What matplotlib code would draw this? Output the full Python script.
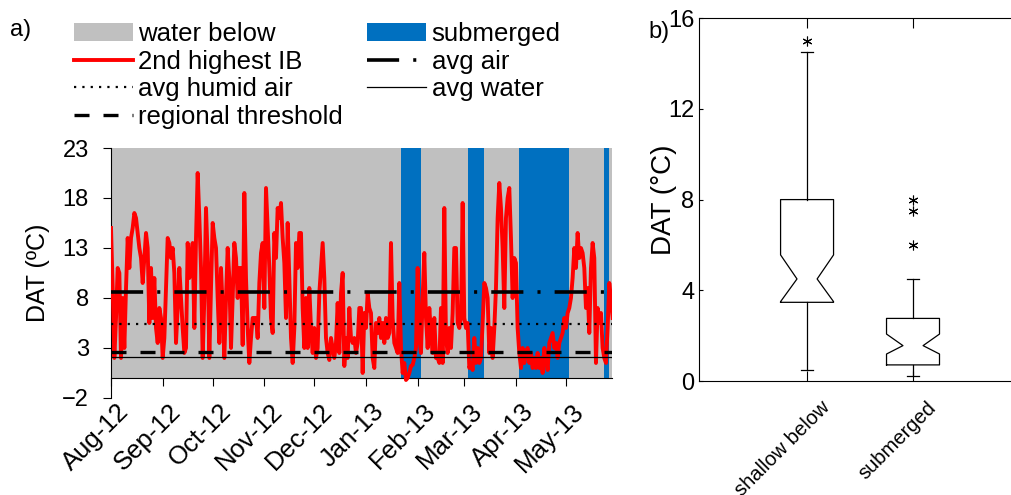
import pandas as pd
import matplotlib
matplotlib.use('Agg')
import matplotlib.pyplot as plt
import matplotlib.dates as mdates
import matplotlib.transforms as mtransforms
from matplotlib.patches import Patch
from matplotlib.lines import Line2D

plt.rcParams['font.family'] = ['Liberation Sans', 'DejaVu Sans']

# daily DAT (°C) of the 2nd highest iButton, starting 1 Aug 2012
start_date = '2012-08-01'
dat_aug_oct = [15, 9, 2, 6, 11, 10.5, 2, 8, 3, 9,
               14, 11, 14, 15, 16.5, 16, 14.5, 13, 12, 9.5,
               12, 14.5, 13, 5.5, 11, 6, 10, 5, 3.5, 7,
               6, 2, 4, 9, 14, 13.5, 12, 13, 10.5, 3.5,
               7, 11, 8, 5, 2.5, 3, 13.5, 10, 12, 13.5,
               5, 14, 20.5, 16, 11, 2, 8, 17, 12, 2,
               9, 15.5, 14, 13, 8, 3.5, 11, 7, 2, 8,
               13, 10, 3, 8]
dat_oct_dec = [13.5, 12, 8, 11, 11, 3.3, 18.5, 10, 5, 1.5,
               4, 6, 6, 6, 4, 9.5, 12.5, 13.5, 7, 19,
               15, 11, 6, 4.5, 14.5, 12, 17, 16, 17.5, 14,
               11.5, 6, 15.5, 10, 4, 1.5, 5, 13.5, 11, 14.5,
               14.5, 7, 3, 8, 3, 9, 5, 2.5, 5, 2,
               3, 8.5, 11, 13.5, 10, 4, 2.5, 1.8, 4, 3,
               2, 3.5, 7.5, 2.5, 8.5, 10.5, 1.2, 4, 2, 7,
               4, 3.5, 4, 2.5, 3.5, 7]
dat_dec_mar = [7, 0.5, 6.5, 5, 8.5, 7, 6.5, 2, 1, 5.5,
               4.5, 6, 4, 5.5, 3.5, 6, 4, 4.5, 13.5, 6,
               3.5, 3, 2.5, 9.5, 3, 0.5, 1.5, -0.2, 0, 0.5,
               1.2, 1.3, 2, 3, 11, 4, 2.5, 8, 12.5, 6,
               3, 7, 4.5, 2.5, 6, 2, 2, 1.5, 7, 1.5,
               17, 4, 2.5, 5, 3, 6.5, 13, 13, 5.5, 5,
               6, 17.5, 6, 5, 5.5, 1, 1.5, 0.8, 4, 1.5,
               3, 1.5, 2, 5.5, 9.5]
dat_mar_may = [9, 8, 2.5, 5, 2, 5, 9, 16, 19.5, 17,
               13, 7, 16, 18, 19, 14, 8, 12, 11.5, 5,
               2.5, 1, 3, 1.5, 2.5, 3, 1.5, 2.5, 1, 2,
               1, 2.5, 1, 2, 0.5, 3, 2, 0.8, 3.5, 4,
               4.5, 3, 3.5, 2, 3.5, 4, 4.5, 6, 5, 6.5,
               7, 8, 10, 13, 11, 14.5, 12, 13, 12.5, 11,
               7, 9, 4.5, 11, 13.5, 12, 1.5, 7, 5.5, 6.5,
               3, 2, 1.5, 5, 9.5, 8, 6]

submerged_start = ['2013-01-22', '2013-03-03', '2013-04-03', '2013-05-24']
submerged_end = ['2013-02-03', '2013-03-13', '2013-05-03', '2013-05-27']

avg_air = 8.6
avg_humid_air = 5.4
regional_threshold = 2.6
avg_water = 2.1

# panel b: box statistics
box_labels = ['shallow below', 'submerged']
box_whislo = [0.48, 0.24]
box_q1 = [3.47, 0.71]
box_cilo = [3.5, 1.19]
box_med = [4.5, 1.56]
box_cihi = [5.56, 2.07]
box_q3 = [8.0, 2.76]
box_whishi = [14.5, 4.5]
box_fliers = [[15.0], [6.0, 7.5, 8.0]]

GRAY = '#c0c0c0'
BLUE = '#0070c0'

fig = plt.figure(figsize=(10.12, 4.95), dpi=100)

# ---- panel a ----
ax = fig.add_axes([0.1097, 0.196, 0.495, 0.505])
dat = dat_aug_oct + dat_oct_dec + dat_dec_mar + dat_mar_may
dates = pd.date_range(start_date, periods=len(dat), freq='D')
x0 = dates[0]
x1 = dates[0] + pd.Timedelta(days=300.6)

ax.fill_between([x0, x1], 0, 23, color=GRAY, lw=0, zorder=0)
for s, e in zip(submerged_start, submerged_end):
    ax.fill_between([pd.Timestamp(s), pd.Timestamp(e)], 0, 23, color=BLUE, lw=0, zorder=1)
ax.plot(dates, dat, color='red', lw=2.8, zorder=3)

air_ls = (0, (8.9, 3.9, 0.85, 3.9))
humid_ls = (0, (1.0, 2.75))
thr_ls = (0, (4.5, 4.2))
ax.axhline(avg_air, color='k', lw=2.6, ls=air_ls, zorder=4)
ax.axhline(avg_humid_air, color='k', lw=1.6, ls=humid_ls, zorder=4)
ax.axhline(regional_threshold, color='k', lw=2.4, ls=thr_ls, zorder=4)
ax.axhline(avg_water, color='k', lw=0.9, zorder=4)

ax.set_xlim(x0, x1)
ax.set_ylim(-2, 23)
ax.set_yticks([-2, 3, 8, 13, 18, 23])
ax.set_xticks(pd.date_range('2012-08-01', '2013-05-01', freq='MS'))
ax.xaxis.set_major_formatter(mdates.DateFormatter('%b-%y'))
ax.spines['top'].set_visible(False)
ax.spines['right'].set_visible(False)
ax.spines['bottom'].set_position(('data', 0))
for sp in ax.spines.values():
    sp.set_linewidth(0.8)
ax.tick_params(direction='out', length=6, width=0.8, labelsize=17)
ax.tick_params(axis='y', pad=10)
ax.tick_params(axis='x', labelsize=18.5)
shift_a = mtransforms.ScaledTranslation(6 / 100, -8 / 100, fig.dpi_scale_trans)
for lab in ax.get_xticklabels():
    lab.set_rotation(45)
    lab.set_ha('right')
    lab.set_rotation_mode('anchor')
    lab.set_transform(lab.get_transform() + shift_a)
ax.set_ylabel('DAT (ºC)', fontsize=18)
ax.yaxis.set_label_coords(-0.122, 0.5)

h1 = [Patch(facecolor=GRAY, edgecolor='none'),
      Line2D([], [], color='red', lw=2.8),
      Line2D([], [], color='k', lw=1.6, ls=humid_ls),
      Line2D([], [], color='k', lw=2.4, ls=thr_ls)]
l1 = ['water below', '2nd highest IB', 'avg humid air', 'regional threshold']
h2 = [Patch(facecolor=BLUE, edgecolor='none'),
      Line2D([], [], color='k', lw=2.6, ls=air_ls),
      Line2D([], [], color='k', lw=0.9)]
l2 = ['submerged', 'avg air', 'avg water']
leg_kw = dict(loc='upper left', frameon=False, borderpad=0, borderaxespad=0,
              handlelength=2.3, handletextpad=0.2, labelspacing=0.14, fontsize=18.5)
fig.legend(h1, l1, bbox_to_anchor=(0.073, 0.955), **leg_kw)
fig.legend(h2, l2, bbox_to_anchor=(0.363, 0.955), **leg_kw)

fig.text(10 / 1012, 1 - 30 / 495, 'a)', fontsize=17, va='center')

# ---- panel b ----
bx = fig.add_axes([0.6907, 0.2303, 0.312, 0.733])
stats = []
for i, lab in enumerate(box_labels):
    stats.append(dict(label=lab, whislo=box_whislo[i], q1=box_q1[i], cilo=box_cilo[i],
                      med=box_med[i], cihi=box_cihi[i], q3=box_q3[i],
                      whishi=box_whishi[i], fliers=box_fliers[i]))
positions = [1, 2]
bx.bxp(stats, positions=positions, widths=0.5, showbox=False, capwidths=0.12,
       whiskerprops=dict(color='k', lw=0.9), capprops=dict(color='k', lw=0.9),
       medianprops=dict(linestyle='none'),
       flierprops=dict(marker=(6, 2, 0), markersize=7, markeredgecolor='k',
                       markeredgewidth=0.8, markerfacecolor='none'))
hw, nw = 0.25, 0.095
for p, q1, lo, md, hi, q3 in zip(positions, box_q1, box_cilo, box_med, box_cihi, box_q3):
    xs = [p - hw, p + hw, p + hw, p + nw, p + hw, p + hw, p - hw, p - hw, p - nw, p - hw, p - hw]
    ys = [q1, q1, lo, md, hi, q3, q3, hi, md, lo, q1]
    bx.plot(xs, ys, color='k', lw=0.9)

bx.set_xlim(-0.02, 2.96)
bx.set_ylim(0, 16)
bx.set_yticks([0, 4, 8, 12, 16])
bx.set_xticks(positions)
bx.tick_params(axis='y', direction='in', length=3, width=0.8, right=True, labelsize=17)
bx.tick_params(axis='x', direction='in', length=7, width=0.8, top=True, labelsize=14.5)
for sp in bx.spines.values():
    sp.set_linewidth(0.8)
bx.set_xticklabels(box_labels, rotation=45, ha='right', rotation_mode='anchor')
shift_b = mtransforms.ScaledTranslation(13 / 100, -12 / 100, fig.dpi_scale_trans)
for lab in bx.get_xticklabels():
    lab.set_transform(lab.get_transform() + shift_b)
bx.set_ylabel('DAT (°C)', fontsize=20)
bx.yaxis.set_label_coords(-0.07, 0.5)

fig.text(648 / 1012, 1 - 32 / 495, 'b)', fontsize=17, va='center')

fig.savefig('out.png', dpi=100)
